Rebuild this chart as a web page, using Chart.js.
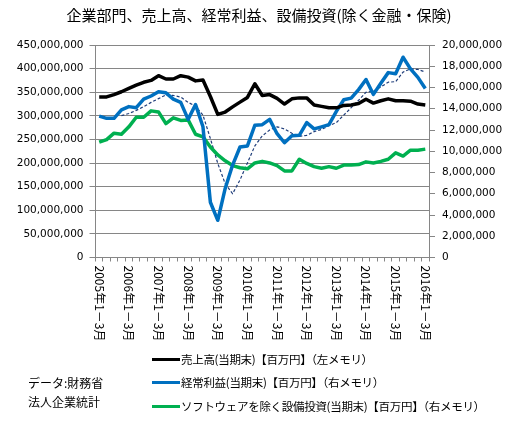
<!DOCTYPE html>
<html lang="ja">
<head>
<meta charset="utf-8">
<script src="https://cdn.jsdelivr.net/npm/chart.js@4.4.1/dist/chart.umd.min.js"></script>
<style>
  html, body { margin: 0; padding: 0; background: #fff; }
  #wrap { position: relative; width: 518px; height: 426px; }
  .jp { position: absolute; font-family: "Noto Sans CJK JP", sans-serif; font-size: 11.5px; letter-spacing: -0.3px; color: #000; white-space: nowrap; }
  .row { height: 18px; line-height: 18px; }
  .sw { display: inline-block; width: 28px; height: 0; border-top: 3px solid; vertical-align: middle; margin-right: 1px; position: relative; top: -1px; }
</style>
</head>
<body>
<div id="wrap">
  <canvas id="results-chart" width="518" height="426"></canvas>
  <div class="jp" style="left:28px; top:373px; line-height:19px; font-size:12px; letter-spacing:0;">データ:財務省<br>法人企業統計</div>
  <div class="jp row" style="left:152px; top:350px;"><span class="sw" style="border-color:#000000"></span>売上高(当期末)【百万円】（左メモリ）</div>
  <div class="jp row" style="left:152px; top:373px;"><span class="sw" style="border-color:#0070C0"></span>経常利益(当期末)【百万円】（右メモリ）</div>
  <div class="jp row" style="left:152px; top:397px;"><span class="sw" style="border-color:#00B050"></span>ソフトウェアを除く設備投資(当期末)【百万円】（右メモリ）</div>
</div>
<script>
// quarters 2005 1-3月 .. 2016 1-3月
let years = [2005, 2006, 2007, 2008, 2009, 2010, 2011, 2012, 2013, 2014, 2015, 2016];
let quarters = ["1－3月", "4－6月", "7－9月", "10－12月"];

// left axis, unit x1,000,000
let sales = [340, 340, 345, 351, 358, 365, 371, 375, 385, 378, 378, 385,
  382, 374, 376, 341, 303, 308, 319, 329, 339, 368, 343, 345,
  337, 325, 336, 338, 338, 323, 320, 317, 317, 322, 323, 326,
  335, 327, 332, 336, 332, 332, 331, 325, 323];

// right axis, unit x1,000,000
let profit = [13.3, 13.1, 13.1, 13.9, 14.2, 14.1, 14.9, 15.2, 15.6, 15.5, 14.9, 14.6,
  13.0, 14.4, 12.3, 5.2, 3.5, 6.5, 8.7, 10.4, 10.5, 12.45, 12.5, 13.0,
  11.65, 10.8, 11.45, 11.5, 12.7, 12.1, 12.3, 12.5, 13.75, 14.85, 15.0, 15.8,
  16.75, 15.35, 16.4, 17.4, 17.3, 18.85, 17.75, 16.95, 15.9];

let capex = [10.85, 11.1, 11.7, 11.6, 12.3, 13.2, 13.2, 13.8, 13.7, 12.6, 13.15, 12.9,
  12.95, 11.6, 11.35, 10.4, 9.65, 9.1, 8.65, 8.45, 8.35, 8.9, 9.05, 8.9,
  8.65, 8.15, 8.15, 9.25, 8.85, 8.55, 8.4, 8.55, 8.4, 8.7, 8.7, 8.75,
  9.0, 8.9, 9.05, 9.25, 9.85, 9.55, 10.1, 10.1, 10.2];

// dotted trend line over profit
let profitTrend = [null, null, null, 13.35, 13.55, 13.85, 14.2, 14.6, 14.95, 15.3, 15.25, 15.1,
  14.6, 14.25, 13.4, 11.2, 8.85, 6.95, 6.0, 7.3, 8.9, 10.5, 11.45, 12.0,
  12.3, 12.1, 11.7, 11.4, 11.5, 11.85, 12.05, 12.4, 12.7, 13.4, 14.1, 14.8,
  15.55, 15.65, 16.05, 16.5, 16.55, 17.45, 17.75, 17.7, 17.45];

let labels = [];
for (const y of years) {
  for (const q of quarters) {
    if (labels.length < sales.length) labels.push(y + "年" + q);
  }
}

const gridColor = "#868686";
const fmt = (v) => (v * 1000000).toLocaleString("en-US");

// x labels read top to bottom, one per year
const verticalLabels = {
  id: "verticalLabels",
  afterDraw(chart) {
    const c = chart.ctx;
    const xs = chart.scales.x;
    c.save();
    c.font = '12px "Noto Sans CJK JP"';
    c.fillStyle = "#000";
    c.textAlign = "left";
    c.textBaseline = "middle";
    for (let i = 0; i < labels.length; i += 4) {
      c.save();
      c.translate(xs.getPixelForValue(i), chart.chartArea.bottom + 8);
      c.rotate(Math.PI / 2);
      c.fillText(labels[i], 0, 0);
      c.restore();
    }
    c.restore();
  },
};

let ctx = document.getElementById("results-chart").getContext("2d");
let chart = new Chart(ctx, {
  type: "line",
  data: {
    labels: labels,
    datasets: [
      { label: "売上高(当期末)【百万円】(左メモリ)", data: sales, yAxisID: "y",
        borderColor: "#000000", borderWidth: 3.5 },
      { label: "経常利益(当期末)【百万円】(右メモリ)", data: profit, yAxisID: "y1",
        borderColor: "#0070C0", borderWidth: 3.5 },
      { label: "ソフトウェアを除く設備投資(当期末)【百万円】(右メモリ)", data: capex, yAxisID: "y1",
        borderColor: "#00B050", borderWidth: 3.5 },
      { label: "trend", data: profitTrend, yAxisID: "y1",
        borderColor: "#1F3D7A", borderWidth: 1.2, borderDash: [3, 2] },
    ],
  },
  options: {
    responsive: false,
    animation: false,
    elements: { point: { radius: 0 }, line: { tension: 0, borderJoinStyle: "round" } },
    layout: { padding: 0 },
    plugins: {
      legend: { display: false },
      tooltip: { enabled: false },
      title: {
        display: true,
        text: "企業部門、売上高、経常利益、設備投資(除く金融・保険)",
        color: "#000",
        font: { family: "Noto Sans CJK JP", size: 15, weight: "normal" },
        padding: { top: 6, bottom: 21 },
      },
    },
    scales: {
      x: {
        offset: true,
        grid: { display: true, drawOnChartArea: false, offset: true, tickLength: 4, color: gridColor },
        border: { color: gridColor },
        ticks: { display: false },
        afterFit: (s) => { s.height = 168.5; },
      },
      y: {
        position: "left",
        min: 0, max: 450,
        grid: { color: gridColor, tickLength: 6 },
        border: { color: gridColor },
        ticks: { stepSize: 50, padding: 6, color: "#000", font: { family: "DejaVu Sans", size: 10.5 }, callback: fmt },
        afterFit: (s) => { s.width = 95.5; },
      },
      y1: {
        position: "right",
        min: 0, max: 20,
        grid: { drawOnChartArea: false, color: gridColor, tickLength: 6 },
        border: { color: gridColor },
        ticks: { stepSize: 2, padding: 7, color: "#000", font: { family: "DejaVu Sans", size: 10.5 }, callback: fmt },
        afterFit: (s) => { s.width = 89; },
      },
    },
  },
  plugins: [verticalLabels],
});
</script>
</body>
</html>
